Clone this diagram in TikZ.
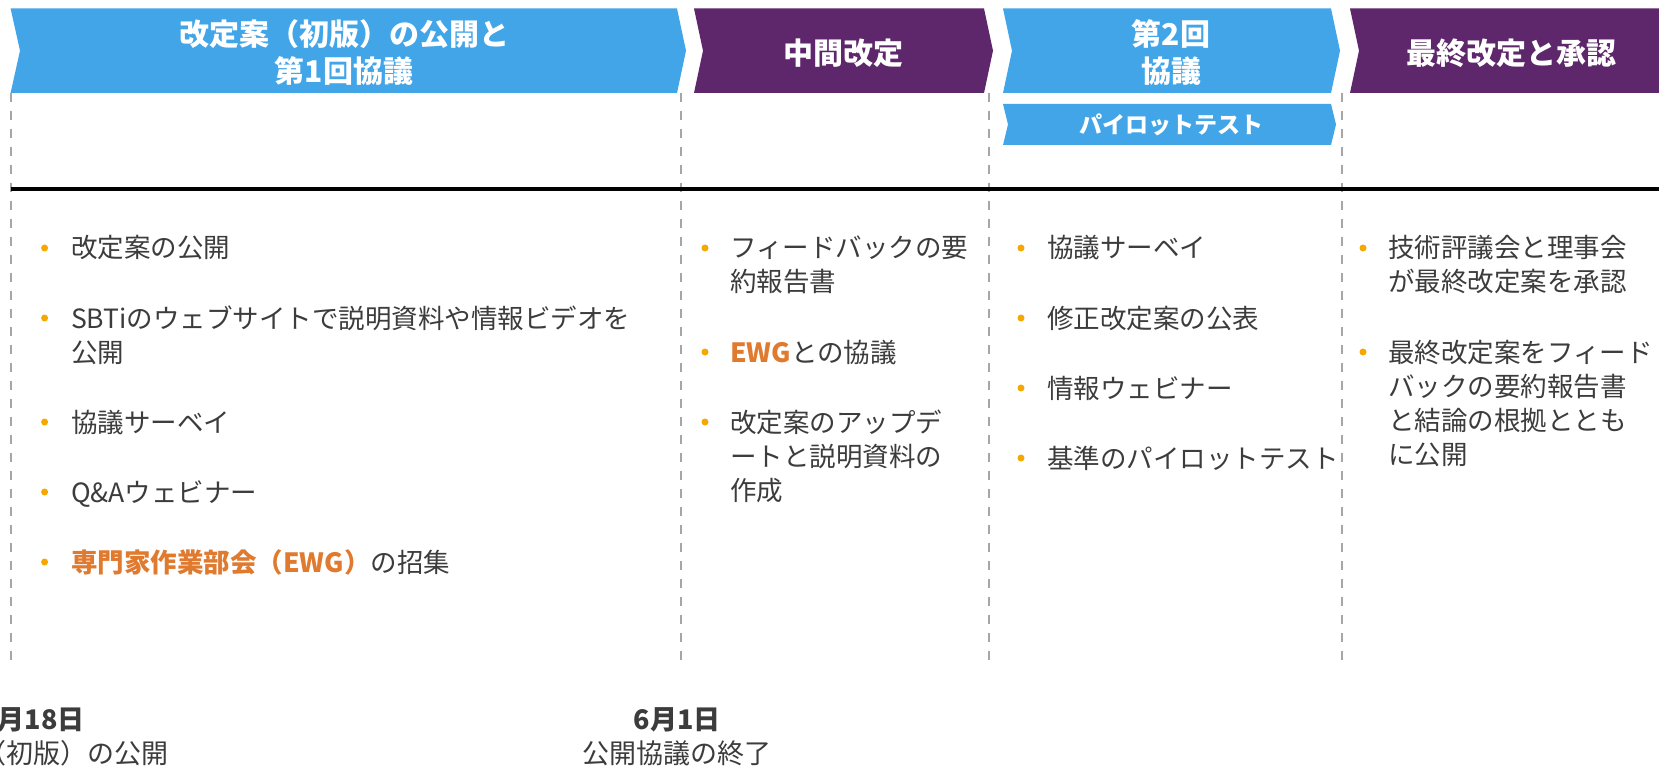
\documentclass[tikz,border=0pt]{standalone}
\usepackage{fontspec}
\setmainfont{Noto Sans CJK JP}
\definecolor{cblue}{RGB}{66,165,232}
\definecolor{cpurple}{RGB}{94,38,107}
\definecolor{ctext}{RGB}{60,60,60}
\definecolor{corange}{RGB}{224,122,47}
\definecolor{cbullet}{RGB}{245,168,0}
\definecolor{cdash}{RGB}{166,166,166}
\newcommand\mylines[1]{\parbox[t]{440pt}{\raggedright\leavevmode #1}}
\newcommand\hl[1]{{\color{corange}\bfseries #1}}
\tikzset{
  headtxt/.style={text=white, font=\fontsize{30}{37}\selectfont\bfseries, align=center, inner sep=0},
  pilottxt/.style={text=white, font=\fontsize{23}{28}\selectfont\bfseries, inner sep=0},
  itemtxt/.style={anchor=base west, inner sep=0, text=ctext, font=\fontsize{26.5}{34}\selectfont},
  bul/.style={circle, fill=cbullet, inner sep=0, minimum size=7pt},
  sepline/.style={draw=cdash, line width=2pt, dash pattern=on 9pt off 9pt},
  datetxt/.style={inner sep=0, text=ctext, font=\fontsize{27}{33}\selectfont\bfseries},
  datesub/.style={inner sep=0, text=ctext, font=\fontsize{27}{33}\selectfont},
}
\begin{document}
\begin{tikzpicture}[x=1pt,y=-1pt]
\useasboundingbox (0,0) rectangle (1659,767);
\fill[white] (0,0) rectangle (1659,767);

% chevrons
\fill[cblue] (10.6,8.5) -- (677,8.5) -- (686,50.7) -- (677,93) -- (10.6,93) -- (20,50.7) -- cycle;
\fill[cpurple] (694,8.5) -- (984,8.5) -- (993,50.7) -- (984,93) -- (694,93) -- (703,50.7) -- cycle;
\fill[cblue] (1003,8.5) -- (1331,8.5) -- (1340,50.7) -- (1331,93) -- (1003,93) -- (1012,50.7) -- cycle;
\fill[cpurple] (1350,8.5) -- (1659,8.5) -- (1659,93) -- (1350,93) -- (1359,50.7) -- cycle;
\fill[cblue] (1003,104) -- (1331,104) -- (1336,124.5) -- (1331,145) -- (1003,145) -- (1008,124.5) -- cycle;

\node[headtxt] (h1) at (344,53) {改定案（初版）の公開と\\第1回協議};
\node[headtxt] (h2) at (843,53) {中間改定};
\node[headtxt] (h3) at (1171,53) {第2回\\協議};
\node[headtxt] (h4) at (1511,53) {最終改定と承認};
\node[pilottxt] (h5) at (1171,125) {パイロットテスト};

% separators
\draw[sepline] (10.6,93) -- (10.6,664);
\draw[sepline] (681,93) -- (681,664);
\draw[sepline] (989,93) -- (989,664);
\draw[sepline] (1342,93) -- (1342,664);

% timeline
\draw[black, line width=3.5pt] (10.6,189) -- (1659,189);

% column 1
\node[bul] (b11) at (44.6,248) {};
\node[itemtxt] (t11) at (71,258) {\mylines{改定案の公開}};
\node[bul] (b12) at (44.6,318) {};
\node[itemtxt] (t12) at (71,328) {\mylines{SBTiのウェブサイトで説明資料や情報ビデオを\\公開}};
\node[bul] (b13) at (44.6,422) {};
\node[itemtxt] (t13) at (71,432) {\mylines{協議サーベイ}};
\node[bul] (b14) at (44.6,492) {};
\node[itemtxt] (t14) at (71,502) {\mylines{Q\&Aウェビナー}};
\node[bul] (b15) at (44.6,562) {};
\node[itemtxt] (t15) at (71,572) {\mylines{\hl{専門家作業部会（EWG）}の招集}};

% column 2
\node[bul] (b21) at (705,248) {};
\node[itemtxt] (t21) at (730,258) {\mylines{フィードバックの要\\約報告書}};
\node[bul] (b22) at (705,352) {};
\node[itemtxt] (t22) at (730,362) {\mylines{\hl{EWG}との協議}};
\node[bul] (b23) at (705,422) {};
\node[itemtxt] (t23) at (730,432) {\mylines{改定案のアップデ\\ートと説明資料の\\作成}};

% column 3
\node[bul] (b31) at (1021,248) {};
\node[itemtxt] (t31) at (1047,258) {\mylines{協議サーベイ}};
\node[bul] (b32) at (1021,318) {};
\node[itemtxt] (t32) at (1047,328) {\mylines{修正改定案の公表}};
\node[bul] (b33) at (1021,388) {};
\node[itemtxt] (t33) at (1047,398) {\mylines{情報ウェビナー}};
\node[bul] (b34) at (1021,458) {};
\node[itemtxt] (t34) at (1047,468) {\mylines{基準のパイロットテスト}};

% column 4
\node[bul] (b41) at (1363,248) {};
\node[itemtxt] (t41) at (1388,258) {\mylines{技術評議会と理事会\\が最終改定案を承認}};
\node[bul] (b42) at (1363,352) {};
\node[itemtxt] (t42) at (1388,362) {\mylines{最終改定案をフィード\\バックの要約報告書\\と結論の根拠ととも\\に公開}};

% dates
\node[datetxt, anchor=east] (d1) at (85,720) {月18日};
\node[datesub, anchor=east] (d1s) at (169,753) {（初版）の公開};
\node[datetxt] (d2) at (677,720) {6月1日};
\node[datesub] (d2s) at (677,753) {公開協議の終了};
\end{tikzpicture}
\end{document}
